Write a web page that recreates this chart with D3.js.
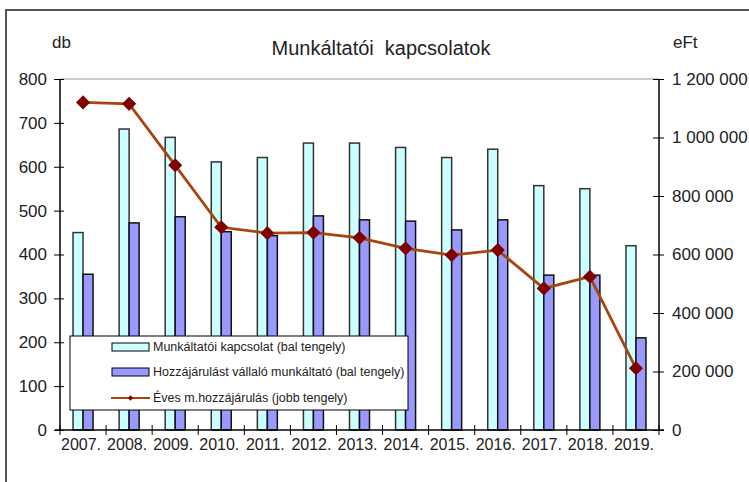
<!DOCTYPE html>
<html>
<head>
<meta charset="utf-8">
<script src="https://cdn.jsdelivr.net/npm/d3@7"></script>
<style>
  body { margin: 0; background: #fff; }
  svg { display: block; font-family: Arial, "Liberation Sans", sans-serif; }
</style>
</head>
<body>
<div id="chart"></div>
<script>
const years = ["2007.", "2008.", "2009.", "2010.", "2011.", "2012.", "2013.",
    "2014.", "2015.", "2016.", "2017.", "2018.", "2019."];
const employers = [450, 686, 667, 611, 621, 654, 654, 644, 621, 640, 557, 550, 420];
const contributing = [355, 472, 486, 452, 443, 488, 479, 476, 456, 479, 353, 353, 210];
const annualContribution = [1120000, 1115000, 905000, 693000, 673000, 675000, 657000,
    621000, 598000, 615000, 484000, 524000, 211000];
const leftTicks = [0, 100, 200, 300, 400, 500, 600, 700, 800];
const rightTicks = [0, 200000, 400000, 600000, 800000, 1000000, 1200000];
const seriesNames = [
    "Munkáltatói kapcsolat (bal tengely)",
    "Hozzájárulást vállaló munkáltató (bal tengely)",
    "Éves m.hozzájárulás (jobb tengely)",
];

const width = 749;
const height = 482;
const plot = { left: 60, right: 659, top: 79, bottom: 430 };
const textColor = "#222";
const font = "Arial, 'Liberation Sans', sans-serif";

const svg = d3.select("#chart")
    .append("svg")
    .attr("width", width)
    .attr("height", height);

// outer frame (only top and left edges visible)
svg.append("rect")
    .attr("x", 6).attr("y", 10)
    .attr("width", 780).attr("height", 520)
    .attr("fill", "#fff")
    .attr("stroke", "#555")
    .attr("stroke-width", 2);

const x = d3.scaleBand()
    .domain(years)
    .range([plot.left, plot.right]);

const yLeft = d3.scaleLinear()
    .domain([0, 800])
    .range([plot.bottom, plot.top]);

const yRight = d3.scaleLinear()
    .domain([0, 1200000])
    .range([plot.bottom, plot.top]);

const fmt = d => d3.format(",")(d).replace(/,/g, " ");

// top border of plot area
svg.append("line")
    .attr("x1", plot.left).attr("x2", plot.right)
    .attr("y1", yLeft(800)).attr("y2", yLeft(800))
    .attr("stroke", "#999");

// bars
const barW = 10;
const rows = years.map((yr, i) => ({ yr, a: employers[i], b: contributing[i], c: annualContribution[i] }));

const g = svg.append("g");
g.selectAll(".barA")
    .data(rows)
    .enter()
    .append("rect")
    .attr("x", d => x(d.yr) + x.bandwidth() / 2 - barW)
    .attr("y", d => yLeft(d.a))
    .attr("width", barW)
    .attr("height", d => yLeft(0) - yLeft(d.a))
    .attr("fill", "#ccffff")
    .attr("stroke", "#333")
    .attr("stroke-width", 1.5);

g.selectAll(".barB")
    .data(rows)
    .enter()
    .append("rect")
    .attr("x", d => x(d.yr) + x.bandwidth() / 2)
    .attr("y", d => yLeft(d.b))
    .attr("width", barW)
    .attr("height", d => yLeft(0) - yLeft(d.b))
    .attr("fill", "#9999ff")
    .attr("stroke", "#111")
    .attr("stroke-width", 1.5);

// left axis
const axL = svg.append("g")
    .attr("transform", `translate(${plot.left},0)`)
    .call(d3.axisLeft(yLeft).tickValues(leftTicks).tickSize(6).tickPadding(7));
axL.selectAll(".tick line").attr("x1", 4).attr("stroke", "#000");
axL.select(".domain").attr("d", `M0,${plot.top}V${plot.bottom}`).attr("stroke", "#000").attr("stroke-width", 1.5);
axL.selectAll("text").attr("font-size", 17).attr("fill", textColor).attr("font-family", font);

// right axis
const axR = svg.append("g")
    .attr("transform", `translate(${plot.right},0)`)
    .call(d3.axisRight(yRight).tickValues(rightTicks).tickFormat(fmt).tickSize(5).tickPadding(8));
axR.selectAll(".tick line").attr("x1", -6).attr("stroke", "#000");
axR.select(".domain").attr("d", `M0,${plot.top}V${plot.bottom}`).attr("stroke", "#000").attr("stroke-width", 1.5);
axR.selectAll("text").attr("font-size", 17).attr("fill", textColor).attr("font-family", font);

// bottom axis
const axB = svg.append("g")
    .attr("transform", `translate(0,${plot.bottom})`)
    .call(d3.axisBottom(x).tickSize(0).tickPadding(9));
axB.select(".domain").attr("d", `M${plot.left - 5},0H${plot.right + 5}`).attr("stroke", "#000").attr("stroke-width", 1.5);
axB.selectAll("text").attr("font-size", 16).attr("fill", textColor).attr("font-family", font)
    .attr("dx", -2);
const bounds = years.map(d => x(d)).concat([x.range()[1]]);
axB.selectAll(".bound")
    .data(bounds)
    .enter()
    .append("line")
    .attr("x1", d => d).attr("x2", d => d)
    .attr("y1", -5).attr("y2", 5)
    .attr("stroke", "#000");

// line series
const line = d3.line()
    .x(d => x(d.yr) + x.bandwidth() / 2)
    .y(d => yRight(d.c));
svg.append("path")
    .datum(rows)
    .attr("d", line)
    .attr("fill", "none")
    .attr("stroke", "#a8450f")
    .attr("stroke-width", 2.8);

const diamond = d3.symbol().type(d3.symbolSquare).size(100);
svg.selectAll(".pt")
    .data(rows)
    .enter()
    .append("path")
    .attr("d", diamond)
    .attr("transform", d => `translate(${x(d.yr) + x.bandwidth() / 2},${yRight(d.c)}) rotate(45)`)
    .attr("fill", "#800000");

// legend
const lg = svg.append("g");
lg.append("rect")
    .attr("x", 70).attr("y", 336)
    .attr("width", 338).attr("height", 74)
    .attr("fill", "#fff")
    .attr("stroke", "#000");
const rowY = [347, 372, 398];
lg.append("rect")
    .attr("x", 112).attr("y", rowY[0] - 4).attr("width", 37).attr("height", 8)
    .attr("fill", "#ccffff").attr("stroke", "#000");
lg.append("rect")
    .attr("x", 112).attr("y", rowY[1] - 4).attr("width", 37).attr("height", 8)
    .attr("fill", "#9999ff").attr("stroke", "#000");
lg.append("line")
    .attr("x1", 111).attr("x2", 150).attr("y1", rowY[2]).attr("y2", rowY[2])
    .attr("stroke", "#a8450f").attr("stroke-width", 2);
lg.append("path")
    .attr("d", d3.symbol().type(d3.symbolSquare).size(14))
    .attr("transform", `translate(130.5,${rowY[2]}) rotate(45)`)
    .attr("fill", "#800000");
lg.selectAll(".lt")
    .data(seriesNames)
    .enter()
    .append("text")
    .attr("x", 153)
    .attr("y", (d, i) => rowY[i])
    .attr("dy", "0.35em")
    .attr("font-size", 12.5)
    .attr("fill", textColor)
    .text(d => d);

// titles
svg.append("text")
    .attr("x", 381).attr("y", 55)
    .attr("text-anchor", "middle")
    .attr("font-size", 20)
    .attr("fill", textColor)
    .style("white-space", "pre")
    .text("Munkáltatói  kapcsolatok");
svg.append("text")
    .attr("x", 52).attr("y", 48)
    .attr("font-size", 17)
    .attr("fill", textColor)
    .text("db");
svg.append("text")
    .attr("x", 673).attr("y", 48)
    .attr("font-size", 17)
    .attr("fill", textColor)
    .text("eFt");
</script>
</body>
</html>
